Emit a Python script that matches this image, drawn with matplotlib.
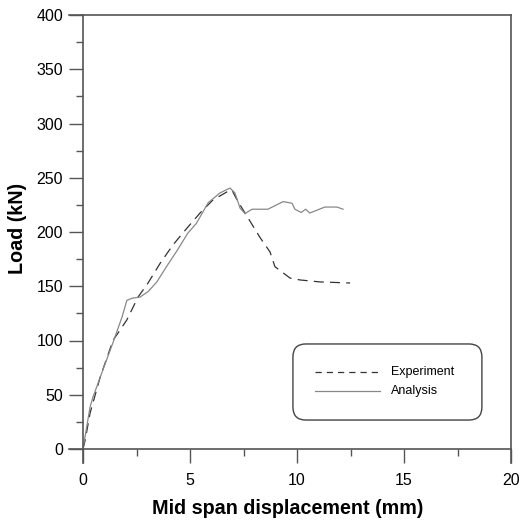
import matplotlib
matplotlib.use("Agg")
import matplotlib.pyplot as plt
from matplotlib.patches import FancyBboxPatch
from matplotlib.ticker import MultipleLocator

plt.rcParams['font.family'] = ['Liberation Sans', 'DejaVu Sans']

exp_x = [0, 0.1, 0.33, 0.8, 1.4, 2.05, 2.57, 3.04, 3.6, 4.2, 4.86, 5.47, 6.07, 6.73, 6.96,
         7.2, 7.57, 8.27, 8.74, 8.97, 9.67, 10.14, 11.07, 12.48]
exp_y = [0, 8, 33, 66, 100, 119, 140, 153, 171, 188, 203.6, 217.5, 229.5, 237, 238.7,
         229.5, 217.5, 195, 181.6, 168, 157.6, 155.8, 154, 153]

ana_x = [0, 0.33, 0.47, 0.93, 1.4, 1.83, 2.05, 2.3, 2.66, 3.04, 3.45, 3.9, 4.4, 4.9, 5.3,
         5.85, 6.4, 6.87, 7.1, 7.34, 7.57, 7.9, 8.64, 9.35, 9.77, 9.9, 10.2, 10.4, 10.6,
         11.3, 11.87, 12.15]
ana_y = [0, 38.7, 48, 73, 98, 122, 137, 139, 140, 145, 154, 168, 183, 199, 208,
         227, 236, 240.5, 236, 222, 217, 221, 221, 228, 226.5, 221, 218, 221, 217.5,
         223, 223, 221]

series_labels = ['Experiment', 'Analysis']

W, H = 521, 522
fig = plt.figure(figsize=(W / 100, H / 100), dpi=100)
L, R, B, T = 83 / W, 511 / W, (H - 449) / H, (H - 15) / H
ax = fig.add_axes([L, B, R - L, T - B])

axcol = '#555555'
ax.plot(exp_x, exp_y, color='#333333', lw=0.9, dashes=(8, 5))
ax.plot(ana_x, ana_y, color='#888888', lw=0.9)

ax.set_xlim(0, 20)
ax.set_ylim(0, 400)
ax.xaxis.set_major_locator(MultipleLocator(5))
ax.xaxis.set_minor_locator(MultipleLocator(2.5))
ax.yaxis.set_major_locator(MultipleLocator(50))
ax.yaxis.set_minor_locator(MultipleLocator(25))
ax.tick_params(which='major', direction='out', length=10, width=1, color=axcol,
               labelsize=11.5)
ax.tick_params(axis='x', which='major', pad=7)
ax.tick_params(axis='y', which='major', pad=4.3)
ax.tick_params(which='minor', direction='out', length=5, width=1, color=axcol)
for s in ax.spines.values():
    s.set_visible(False)

tx = 14 / (R - L) / W
ty = 14 / (T - B) / H
kw = dict(transform=ax.transAxes, clip_on=False, color=axcol, lw=1.2)
ax.plot([-tx, 1], [0, 0], **kw)
ax.plot([-tx, 1], [1, 1], **kw)
ax.plot([0, 0], [-ty, 1], **kw)
ax.plot([1, 1], [-ty, 1], **kw)

fig.text(287.5 / W, 1 - 508 / H, 'Mid span displacement (mm)', fontsize=14.2,
         fontweight='bold', ha='center', va='center')
fig.text(18 / W, 1 - 228.5 / H, 'Load (kN)', fontsize=14.2, fontweight='bold',
         ha='center', va='center', rotation=90)

box = FancyBboxPatch((9.81, 26.7), 18.64 - 9.81, 96.8 - 26.7,
                     boxstyle='round,pad=0,rounding_size=0.6', mutation_aspect=20,
                     fc='white', ec='#444444', lw=1)
ax.add_patch(box)
ax.plot([10.84, 13.88], [71, 71], color='#333333', lw=0.9, dashes=(5, 4))
ax.plot([10.84, 13.88], [53.5, 53.5], color='#888888', lw=0.9)
ax.text(14.4, 71, series_labels[0], fontsize=9, va='center', ha='left')
ax.text(14.4, 53.5, series_labels[1], fontsize=9, va='center', ha='left')

fig.savefig('out.png', dpi=100)
